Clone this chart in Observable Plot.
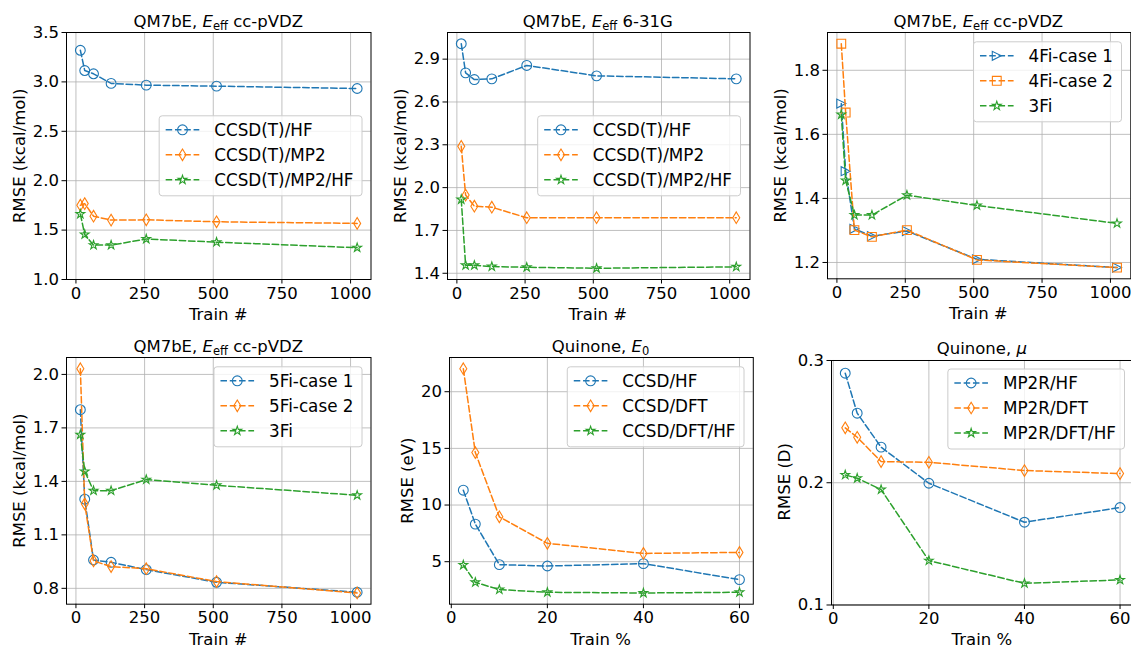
<!DOCTYPE html>
<html><head><meta charset="utf-8">
<script src="https://cdn.jsdelivr.net/npm/d3@7"></script>
<script src="https://cdn.jsdelivr.net/npm/@observablehq/plot@0.6"></script>
<style>
body{margin:0;background:#fff;}
#fig{position:relative;width:1131px;height:647px;overflow:hidden;background:#fff;}
#fig svg{position:absolute;}
</style></head><body><div id="fig"></div>
<script>
// ---------- data ----------
const trainN = [16, 32, 64, 128, 256, 512, 1024];
const trainPct = [2.5, 5, 10, 20, 40, 60];

const fi3 = [1.662, 1.456, 1.348, 1.348, 1.410, 1.378, 1.322];   // CCSD(T)/MP2/HF = 3Fi

const p1HF  = [3.320, 3.115, 3.082, 2.985, 2.967, 2.957, 2.933];
const p1MP2 = [1.752, 1.768, 1.641, 1.601, 1.604, 1.584, 1.568];

const p2HF    = [3.008, 2.804, 2.757, 2.762, 2.856, 2.783, 2.762];
const p2MP2   = [2.289, 1.948, 1.870, 1.863, 1.789, 1.789, 1.789];
const p2MP2HF = [1.917, 1.456, 1.456, 1.447, 1.442, 1.435, 1.445];

const p3Case1 = [1.696, 1.485, 1.305, 1.282, 1.298, 1.210, 1.184];
const p3Case2 = [1.883, 1.668, 1.301, 1.280, 1.301, 1.208, 1.184];

const p4Case1 = [1.802, 1.300, 0.959, 0.946, 0.905, 0.834, 0.778];
const p4Case2 = [2.032, 1.274, 0.954, 0.922, 0.910, 0.838, 0.774];

const p5HF    = [11.31, 8.32, 4.74, 4.62, 4.83, 3.42];
const p5DFT   = [22.03, 14.63, 8.96, 6.62, 5.73, 5.82];
const p5DFTHF = [4.71, 3.18, 2.54, 2.30, 2.24, 2.30];

const p6HF    = [0.2896, 0.2569, 0.2291, 0.1996, 0.1677, 0.1797];
const p6DFT   = [0.2449, 0.2372, 0.2173, 0.2167, 0.2100, 0.2075];
const p6DFTHF = [0.2064, 0.2037, 0.1944, 0.1363, 0.1177, 0.1205];

const xTicksN = [0, 250, 500, 750, 1000];
const xTicksPct = [0, 20, 40, 60];
const yTicks1 = [1.0, 1.5, 2.0, 2.5, 3.0, 3.5];
const yTicks2 = [1.4, 1.7, 2.0, 2.3, 2.6, 2.9];
const yTicks3 = [1.2, 1.4, 1.6, 1.8];
const yTicks4 = [0.8, 1.1, 1.4, 1.7, 2.0];
const yTicks5 = [5, 10, 15, 20];
const yTicks6 = [0.1, 0.2, 0.3];

const tab = ["#1f77b4", "#ff7f0e", "#2ca02c"];

// ---------- marker symbols ----------
const SYM = {
  circle: {draw(c){ const R = 4.9; c.moveTo(R, 0); c.arc(0, 0, R, 0, 2 * Math.PI); c.closePath(); }},
  thinDiamond: {draw(c){ const h = 5.8, w = 3.5; c.moveTo(0, -h); c.lineTo(w, 0); c.lineTo(0, h); c.lineTo(-w, 0); c.closePath(); }},
  star: {draw(c){ const R = 4.6, r = R * 0.381966;
    for (let k = 0; k < 10; k++) { const a = -Math.PI / 2 + k * Math.PI / 5, rr = k % 2 ? r : R;
      const x = rr * Math.cos(a), y = rr * Math.sin(a); if (k) c.lineTo(x, y); else c.moveTo(x, y); }
    c.closePath(); }},
  triRight: {draw(c){ const s = 4.5; c.moveTo(s, 0); c.lineTo(-s, -s); c.lineTo(-s, s); c.closePath(); }},
  square: {draw(c){ const s = 4.4; c.moveTo(-s, -s); c.lineTo(s, -s); c.lineTo(s, s); c.lineTo(-s, s); c.closePath(); }}
};

const eeff = (rest) => [{t: "QM7bE, "}, {t: "E", it: true}, {t: "eff", sub: true}, {t: rest}];

const panels = [
  {frame: [66, 370.5, 32.3, 279.3], x: trainN, xTicks: xTicksN, yDomain: [1, 3.5], yTicks: yTicks1, yFmt: ".1f",
   xLabel: "Train #", yLabel: "RMSE (kcal/mol)", title: eeff(" cc-pVDZ"), legend: "center",
   series: [{name: "CCSD(T)/HF", y: p1HF, sym: "circle"}, {name: "CCSD(T)/MP2", y: p1MP2, sym: "thinDiamond"}, {name: "CCSD(T)/MP2/HF", y: fi3, sym: "star"}]},
  {frame: [446.5, 749, 32.3, 279.3], x: trainN, xTicks: xTicksN, yTicks: yTicks2, yFmt: ".1f",
   xLabel: "Train #", yLabel: "RMSE (kcal/mol)", title: eeff(" 6-31G"), legend: "center",
   series: [{name: "CCSD(T)/HF", y: p2HF, sym: "circle"}, {name: "CCSD(T)/MP2", y: p2MP2, sym: "thinDiamond"}, {name: "CCSD(T)/MP2/HF", y: p2MP2HF, sym: "star"}]},
  {frame: [826.7, 1130, 32.3, 278.6], x: trainN, xTicks: xTicksN, yTicks: yTicks3, yFmt: ".1f",
   xLabel: "Train #", yLabel: "RMSE (kcal/mol)", title: eeff(" cc-pVDZ"), legend: "upper",
   series: [{name: "4Fi-case 1", y: p3Case1, sym: "triRight"}, {name: "4Fi-case 2", y: p3Case2, sym: "square"}, {name: "3Fi", y: fi3, sym: "star"}]},
  {frame: [66, 370.5, 357.3, 604], x: trainN, xTicks: xTicksN, yTicks: yTicks4, yFmt: ".1f",
   xLabel: "Train #", yLabel: "RMSE (kcal/mol)", title: eeff(" cc-pVDZ"), legend: "upper",
   series: [{name: "5Fi-case 1", y: p4Case1, sym: "circle"}, {name: "5Fi-case 2", y: p4Case2, sym: "thinDiamond"}, {name: "3Fi", y: fi3, sym: "star"}]},
  {frame: [448.7, 752.5, 357.3, 604], x: trainPct, xTicks: xTicksPct, yTicks: yTicks5, yFmt: "d",
   xLabel: "Train %", yLabel: "RMSE (eV)", title: [{t: "Quinone, "}, {t: "E", it: true}, {t: "0", sub: true}], legend: "upper",
   series: [{name: "CCSD/HF", y: p5HF, sym: "circle"}, {name: "CCSD/DFT", y: p5DFT, sym: "thinDiamond"}, {name: "CCSD/DFT/HF", y: p5DFTHF, sym: "star"}]},
  {frame: [830.7, 1133, 359.5, 604], x: trainPct, xTicks: xTicksPct, yDomain: [0.1, 0.3], yTicks: yTicks6, yFmt: ".1f",
   xLabel: "Train %", yLabel: "RMSE (D)", title: [{t: "Quinone, "}, {t: "μ", it: true}], legend: "upper",
   series: [{name: "MP2R/HF", y: p6HF, sym: "circle"}, {name: "MP2R/DFT", y: p6DFT, sym: "thinDiamond"}, {name: "MP2R/DFT/HF", y: p6DFTHF, sym: "star"}]}
];

// ---------- render ----------
const fig = document.getElementById("fig");
const FONT = '"DejaVu Sans", sans-serif';
const TICK = 4.5, TPAD = 3, DASH = "6.5,2.8";
const autoDom = (vals) => { const [a, b] = d3.extent(vals); const p = (b - a) * 0.05; return [a - p, b + p]; };

panels.forEach((p) => {
  const [fx0, fx1, fy0, fy1] = p.frame;
  const mL = 60, mR = 12, mT = 10, mB = 34;
  const xDom = autoDom(p.x);
  const yDom = p.yDomain || autoDom(p.series.flatMap(s => s.y));
  const rows = p.series.map((s, si) => p.x.map((x, i) => ({x, y: s.y[i], si})));
  const chart = Plot.plot({
    width: fx1 - fx0 + mL + mR, height: fy1 - fy0 + mT + mB,
    marginLeft: mL, marginRight: mR, marginTop: mT, marginBottom: mB,
    style: {fontFamily: FONT, fontSize: "16.5px", color: "black", background: "transparent", overflow: "visible"},
    x: {domain: xDom}, y: {domain: yDom},
    marks: [
      Plot.gridX(p.xTicks, {stroke: "#b0b0b0", strokeOpacity: 1, strokeWidth: 0.8}),
      Plot.gridY(p.yTicks, {stroke: "#b0b0b0", strokeOpacity: 1, strokeWidth: 0.8}),
      ...rows.flatMap((r, si) => [
        Plot.line(r, {x: "x", y: "y", stroke: tab[si], strokeWidth: 1.5, strokeDasharray: DASH}),
        Plot.dot(r, {x: "x", y: "y", stroke: tab[si], fill: "none", strokeWidth: 1.1, r: 5, symbol: SYM[p.series[si].sym]})
      ]),
      Plot.frame({stroke: "black", strokeWidth: 1}),
      Plot.axisX(p.xTicks, {tickSize: TICK, tickPadding: TPAD, label: null, tickFormat: d => String(d)}),
      Plot.axisY(p.yTicks, {tickSize: TICK, tickPadding: TPAD, label: null, tickFormat: d3.format(p.yFmt)})
    ]
  });
  chart.style.left = (fx0 - mL) + "px";
  chart.style.top = (fy0 - mT) + "px";
  fig.appendChild(chart);
  p.yTickLabels = p.yTicks.map(d3.format(p.yFmt));
});

// overlay: titles, axis labels, legends
const ov = d3.create("svg").attr("width", 1131).attr("height", 647)
  .style("left", "0px").style("top", "0px").style("font-family", FONT).attr("fill", "black");
fig.appendChild(ov.node());

const measure = (txt, size) => {
  const t = ov.append("text").attr("font-size", size).text(txt);
  const w = t.node().getComputedTextLength(); t.remove(); return w;
};

panels.forEach((p) => {
  const [fx0, fx1, fy0, fy1] = p.frame;
  const cx = (fx0 + fx1) / 2, cy = (fy0 + fy1) / 2;
  // title
  const tt = ov.append("text").attr("x", cx).attr("y", fy0 - 5.5).attr("text-anchor", "middle").attr("font-size", 16.5);
  let shifted = false;
  p.title.forEach(part => {
    const ts = tt.append("tspan").text(part.t);
    if (part.it) ts.attr("font-style", "italic");
    if (part.sub) { ts.attr("font-size", 11.5).attr("dy", 3); shifted = true; }
    else if (shifted) { ts.attr("dy", -3); shifted = false; }
  });
  // x label
  ov.append("text").attr("x", cx).attr("y", fy1 + 40.5).attr("text-anchor", "middle").attr("font-size", 16.5).text(p.xLabel);
  // y label
  const maxW = d3.max(p.yTickLabels, s => measure(s, 16.5));
  const bx = fx0 - (TICK + TPAD) - maxW - 7;
  ov.append("text").attr("transform", `translate(${bx},${cy}) rotate(-90)`).attr("text-anchor", "middle")
    .attr("font-size", 16.5).text(p.yLabel);
  // legend
  const FS = 16.8, padL = 6.5, hl = 33.6, gap = 15, padR = 8.5, pitch = 25, first = 14, last = 16;
  const tw = d3.max(p.series, s => measure(s.name, FS));
  const lw = padL + hl + gap + tw + padR, lh = first + (p.series.length - 1) * pitch + last;
  const lx = fx1 - 8.5 - lw;
  const ly = p.legend === "center" ? cy - lh / 2 : fy0 + 9.5;
  const g = ov.append("g").attr("transform", `translate(${lx},${ly})`);
  g.append("rect").attr("width", lw).attr("height", lh).attr("rx", 3).attr("fill", "white").attr("fill-opacity", 0.8)
    .attr("stroke", "#cccccc").attr("stroke-width", 1);
  p.series.forEach((s, i) => {
    const yy = first + i * pitch;
    g.append("line").attr("x1", padL).attr("x2", padL + hl).attr("y1", yy).attr("y2", yy)
      .attr("stroke", tab[i]).attr("stroke-width", 1.5).attr("stroke-dasharray", DASH);
    const path = d3.path(); SYM[s.sym].draw(path, 0);
    g.append("path").attr("d", path.toString()).attr("transform", `translate(${padL + hl / 2},${yy})`)
      .attr("fill", "none").attr("stroke", tab[i]).attr("stroke-width", 1.1);
    g.append("text").attr("x", padL + hl + gap).attr("y", yy + 6).attr("font-size", FS).text(s.name);
  });
});
</script>
</body></html>
